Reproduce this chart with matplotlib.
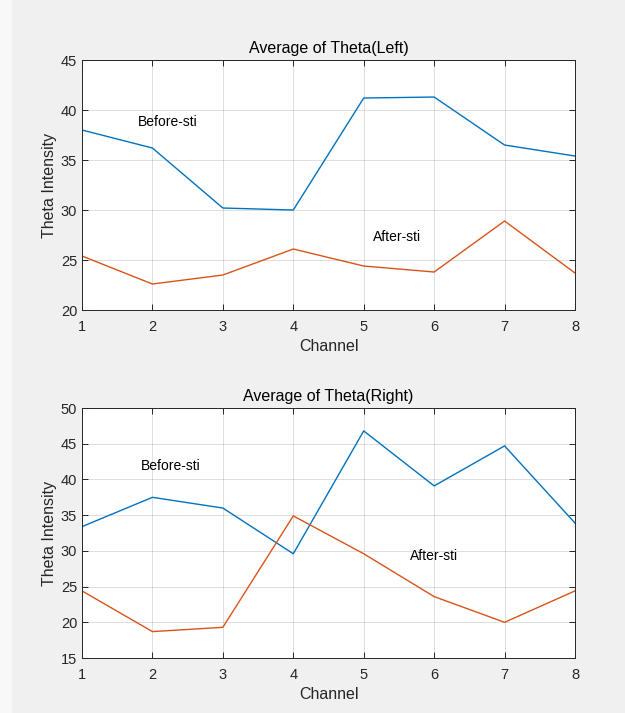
import matplotlib
matplotlib.use("Agg")
import matplotlib.pyplot as plt
from matplotlib.patches import Rectangle

channels = [1, 2, 3, 4, 5, 6, 7, 8]
left_before = [38.0, 36.2, 30.2, 30.0, 41.2, 41.3, 36.5, 35.4]
left_after = [25.4, 22.6, 23.5, 26.1, 24.4, 23.8, 28.9, 23.7]
right_before = [33.4, 37.5, 36.0, 29.6, 46.8, 39.1, 44.7, 33.9]
right_after = [24.4, 18.7, 19.3, 34.9, 29.6, 23.6, 20.0, 24.4]

plt.rcParams['font.family'] = ['Liberation Sans', 'DejaVu Sans']
dark = '#262626'
blue = '#0072BD'
orange = '#D95319'

fig = plt.figure(figsize=(6.25, 7.13), dpi=100)
fig.patch.set_facecolor('#f0f0f0')
fig.patches.append(Rectangle((0, 0), 12 / 625, 1, transform=fig.transFigure,
                             facecolor='#f8f8f8', edgecolor='none', zorder=-1))

def style(ax, ylim, yticks, title):
    ax.set_xlim(1, 8)
    ax.set_ylim(*ylim)
    ax.set_xticks(channels)
    ax.set_yticks(yticks)
    ax.grid(True, color='#000000', alpha=0.13, linewidth=0.7)
    ax.set_axisbelow(True)
    ax.tick_params(direction='in', top=True, right=True, length=4,
                   colors=dark, labelsize=10.5, width=0.7)
    ax.tick_params(axis='x', pad=7)
    for s in ax.spines.values():
        s.set_color(dark)
        s.set_linewidth(0.7)
    ax.set_title(title, fontsize=11.5, color='#000000', pad=5)
    ax.set_xlabel('Channel', fontsize=11.5, color=dark, labelpad=4)
    ax.set_ylabel('Theta Intensity', fontsize=11.5, color=dark, labelpad=3)

ax1 = fig.add_axes([0.1312, 0.5652, 0.7888, 0.3506])
ax1.plot(channels, left_before, color=blue, linewidth=1.0)
ax1.plot(channels, left_after, color=orange, linewidth=1.0)
style(ax1, (20, 45), [20, 25, 30, 35, 40, 45], 'Average of Theta(Left)')
ax1.text(1.79, 38.8, 'Before-sti', fontsize=10, color='#000000', va='center')
ax1.text(5.13, 27.3, 'After-sti', fontsize=10, color='#000000', va='center')

ax2 = fig.add_axes([0.1312, 0.0771, 0.7888, 0.3506])
ax2.plot(channels, right_before, color=blue, linewidth=1.0)
ax2.plot(channels, right_after, color=orange, linewidth=1.0)
style(ax2, (15, 50), [15, 20, 25, 30, 35, 40, 45, 50], 'Average of Theta(Right)')
ax2.text(1.84, 41.9, 'Before-sti', fontsize=10, color='#000000', va='center')
ax2.text(5.66, 29.3, 'After-sti', fontsize=10, color='#000000', va='center')

fig.savefig('out.png', dpi=100, facecolor=fig.get_facecolor())
